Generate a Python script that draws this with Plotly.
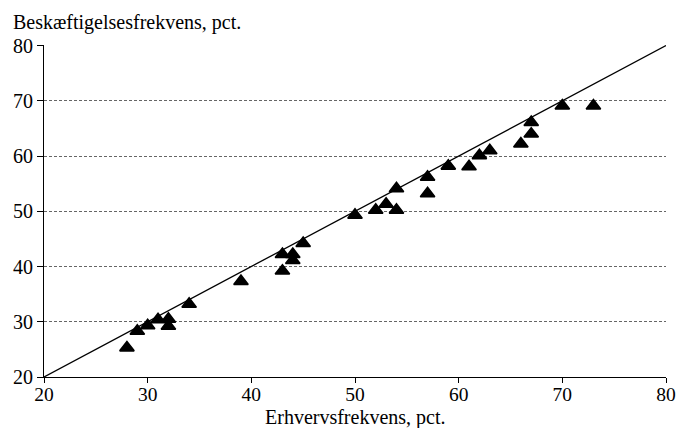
import plotly.graph_objects as go

# Erhvervsfrekvens (x) og beskæftigelsesfrekvens (y), pct.
erhverv = [28, 29, 30, 31, 32, 32, 34, 39, 43, 43, 44, 44, 45, 50, 52, 53, 54, 54,
           57, 57, 59, 61, 62, 63, 66, 67, 67, 70, 73]
beskaeft = [25.3, 28.3, 29.3, 30.4, 30.5, 29.2, 33.2, 37.3, 42.2, 39.2, 42.2, 41.1, 44.2,
            49.3, 50.2, 51.3, 50.2, 54.1, 56.2, 53.2, 58.2, 58.1, 60.1, 61.0, 62.2,
            64.0, 66.1, 69.1, 69.1]

# 45-graders linje
diag_x = [20, 80]
diag_y = [20, 80]

tick_vals = [20, 30, 40, 50, 60, 70, 80]

serif = "Liberation Serif, Times New Roman, Times, serif"

fig = go.Figure()
fig.add_trace(go.Scatter(x=diag_x, y=diag_y, mode="lines",
                         line=dict(color="black", width=1.3),
                         hoverinfo="skip", showlegend=False))
fig.add_trace(go.Scatter(x=erhverv, y=beskaeft, mode="markers",
                         marker=dict(symbol="triangle-up", size=12.5, color="black",
                                     line=dict(color="black", width=1.6)),
                         showlegend=False))

fig.update_layout(
    width=676, height=428,
    margin=dict(l=44, r=10, t=45, b=51),
    paper_bgcolor="white", plot_bgcolor="white",
    font=dict(family=serif, color="black", size=20),
    xaxis=dict(range=[20, 80], tickvals=tick_vals, showgrid=False, zeroline=False,
               automargin=False,
               showline=True, linecolor="black", linewidth=1,
               ticks="outside", ticklen=5, tickcolor="black",
               ticklabelstandoff=-5,
               tickfont=dict(family=serif, size=19.5)),
    yaxis=dict(range=[20, 80.1], tickvals=tick_vals, showgrid=True, gridcolor="#666666",
               griddash="3px,2px", gridwidth=1, zeroline=False,
               automargin=False,
               showline=True, linecolor="black", linewidth=1,
               ticks="outside", ticklen=6, tickcolor="black",
               tickfont=dict(family=serif, size=20)),
    annotations=[
        dict(text="Beskæftigelsesfrekvens, pct.", xref="paper", yref="paper",
             x=-0.053, y=1.0, xanchor="left", yanchor="bottom", yshift=9,
             showarrow=False, font=dict(family=serif, size=20)),
        dict(text="Erhvervsfrekvens, pct.", xref="paper", yref="paper",
             x=0.5, y=0.0, xanchor="center", yanchor="bottom", yshift=-54,
             showarrow=False, font=dict(family=serif, size=20)),
    ],
)

fig.write_html("out.html")
